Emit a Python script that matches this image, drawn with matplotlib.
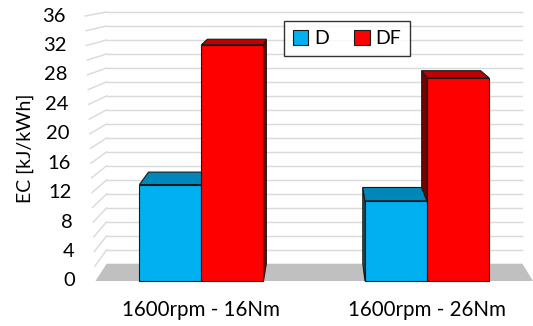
import numpy as np
import matplotlib
matplotlib.use("Agg")
import matplotlib.pyplot as plt
from matplotlib.patches import Polygon, Patch

plt.rcParams['font.family'] = ['Lato', 'DejaVu Sans']

# energy consumption per operating point
conditions = ["1600rpm - 16Nm", "1600rpm - 26Nm"]
ec_d = [13.1, 10.9]
ec_df = [32.1, 27.6]
series = ["D", "DF"]
yticks = list(range(0, 37, 4))

front_col = {"D": "#00B0F0", "DF": "#FF0000"}
top_col = {"D": "#0086B8", "DF": "#C00000"}
side_col = {"D": "#00678E", "DF": "#7A0000"}

# simple perspective: back plane shrinks towards a vanishing point
VX, VY, S = 0.53, 47.0, 0.95
XL, XR = -0.47, 1.47
W = 0.275


def back(x, y):
    return VX + S * (x - VX), VY + S * (y - VY)


def wall_x(v):
    # front edge of the left wall leans slightly outwards
    return XL - 0.045 * v / 36


fig = plt.figure(figsize=(5.33, 3.26), dpi=100)
ax = fig.add_axes([88 / 533, 45 / 326, 445 / 533, 265 / 326])
ax.set_xlim(-0.503, 1.47)
ax.set_ylim(0, 36)
ax.axis('off')

# gridlines on back and left walls
for v in range(2, 37, 2):
    bx0, by = back(XL, v)
    bx1, _ = back(XR, v)
    ax.plot([bx0, bx1], [by, by], color="#D9D9D9", lw=1.0, clip_on=False, zorder=1)
    ax.plot([wall_x(v), bx0], [v, by], color="#D9D9D9", lw=1.0, clip_on=False, zorder=1)

# floor
fl = [(XL, 0), (XR, 0), back(XR, 0), back(XL, 0)]
ax.add_patch(Polygon(fl, closed=True, facecolor="#C0C0C0", edgecolor="none",
                     clip_on=False, zorder=2))

x = np.arange(len(conditions))
ec = "#1A1A1A"
lw = 0.8
z = 3
for i in range(len(conditions)):
    group = [("D", x[i] - W, ec_d[i]), ("DF", x[i], ec_df[i])]
    for j, (name, x0, h) in enumerate(group):
        x1 = x0 + W
        # visible side face, starting above the neighbouring bar
        if x1 < VX:
            xs, base = x1, (group[j + 1][2] if j + 1 < len(group) else 0)
        elif x0 > VX:
            xs, base = x0, (group[j - 1][2] if j > 0 else 0)
        else:
            xs = None
        if xs is not None and base < h:
            pts = [(xs, base), (xs, h), back(xs, h), back(xs, base)]
            ax.add_patch(Polygon(pts, closed=True, facecolor=side_col[name],
                                 edgecolor=ec, lw=lw, clip_on=False, zorder=z))
        top = [(x0, h), (x1, h), back(x1, h), back(x0, h)]
        ax.add_patch(Polygon(top, closed=True, facecolor=top_col[name], edgecolor=ec,
                             lw=lw, clip_on=False, zorder=z + 0.1))
        ax.bar(x0, h, width=W, align='edge', color=front_col[name], edgecolor=ec,
               linewidth=lw, zorder=z + 0.2, clip_on=False)
        z += 1

# axis text
for v in yticks:
    ax.text(wall_x(v) - 0.089, v, str(v), ha='right', va='center', fontsize=14.5)
for i, c in enumerate(conditions):
    ax.text(x[i], -3.95, c, ha='center', va='center', fontsize=14.8)
fig.text(25 / 533, 1 - 148 / 326, "EC [kJ/kWh]", rotation=90, ha='center',
         va='center', fontsize=14)

handles = [Patch(facecolor=front_col[s], edgecolor=ec, lw=lw) for s in series]
leg = fig.legend(handles, series, ncol=2, loc='center',
                 bbox_to_anchor=(347 / 533, 1 - 38.5 / 326), fontsize=14,
                 frameon=True, fancybox=False, edgecolor='black',
                 handlelength=0.8, handleheight=0.8, handletextpad=0.3,
                 columnspacing=1.3, borderpad=0.45)
leg.get_frame().set_linewidth(1.0)

fig.savefig("out.png", dpi=100)
